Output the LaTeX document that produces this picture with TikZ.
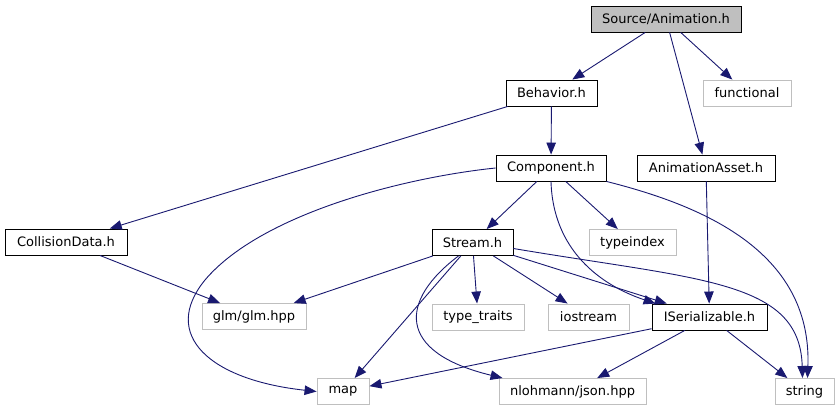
\documentclass[tikz,border=0pt]{standalone}
\usepackage{fontspec}
\setmainfont{DejaVu Sans}
\usepackage{tikz}
\usetikzlibrary{arrows.meta}
\definecolor{edgeblue}{HTML}{191970}
\definecolor{sysgray}{HTML}{BFBFBF}
\tikzset{
  box/.style={rectangle, inner sep=0pt, minimum height=26pt, font=\fontsize{13}{15}\selectfont},
  hdr/.style={box, draw=black, line width=0.9pt},
  root/.style={hdr, fill=sysgray},
  sys/.style={box, draw=sysgray, line width=0.9pt},
  dep/.style={-{Triangle[length=12pt,width=9.5pt]}, line width=0.9pt, edgeblue},
}

\begin{document}
\begin{tikzpicture}[x=1pt,y=-1pt]
  \useasboundingbox (0,0) rectangle (839,411);
  \node[root, minimum width=150pt] (anim) at (666,19) {Source/Animation.h};
  \node[hdr, minimum width=91pt] (beh) at (551.5,93) {Behavior.h};
  \node[sys, minimum width=88pt] (func) at (747,93) {functional};
  \node[hdr, minimum width=110pt] (comp) at (551,168) {Component.h};
  \node[hdr, minimum width=138pt] (asset) at (706,168) {AnimationAsset.h};
  \node[hdr, minimum width=122pt] (coll) at (66,242) {CollisionData.h};
  \node[hdr, minimum width=81pt] (strm) at (472.5,242.5) {Stream.h};
  \node[sys, minimum width=87pt] (tidx) at (632.5,242.5) {typeindex};
  \node[sys, minimum width=104pt] (glm) at (254,316.5) {glm/glm.hpp};
  \node[sys, minimum width=92pt] (ttr) at (478,317) {type\_traits};
  \node[sys, minimum width=81pt] (ios) at (588.5,317) {iostream};
  \node[hdr, minimum width=115pt] (iser) at (709.5,317) {ISerializable.h};
  \node[sys, minimum width=52pt] (map) at (343,391.5) {map};
  \node[sys, minimum width=147pt] (json) at (572.5,391.5) {nlohmann/json.hpp};
  \node[sys, minimum width=59pt] (str) at (804.5,391.5) {string};

  \draw[dep] (anim) -- (beh);
  \draw[dep] (anim) -- (func);
  \draw[dep] (anim) -- (asset);
  \draw[dep] (beh) -- (comp);
  \draw[dep] (beh) -- (coll);
  \draw[dep] (comp) -- (strm);
  \draw[dep] (comp) -- (tidx);
  \draw[dep] (comp.west) .. controls (400,178) and (260,215) .. (205,280)
    .. controls (160,335) and (210,380) .. (map.west);
  \draw[dep] (comp.south) .. controls (553,250) and (600,285) .. ([xshift=4pt]iser.north west);
  \draw[dep] (comp.south east) .. controls (700,205) and (812,250) .. ([xshift=3pt]str.north);
  \draw[dep] (asset) -- (iser);
  \draw[dep] (coll) -- (glm);
  \draw[dep] (strm) -- (glm);
  \draw[dep] (strm) -- (ttr);
  \draw[dep] (strm) -- (ios);
  \draw[dep] (strm) -- (iser);
  \draw[dep] (strm) -- (map);
  \draw[dep] ([yshift=-6pt]strm.east) .. controls (700,280) and (800,280) .. ([xshift=-2pt]str.north);
  \draw[dep] ([xshift=-14pt]strm.south) .. controls (400,300) and (395,352) .. ([xshift=4pt]json.north west);
  \draw[dep] (iser) -- (map);
  \draw[dep] (iser) -- (json);
  \draw[dep] (iser) -- (str);
\end{tikzpicture}
\end{document}
